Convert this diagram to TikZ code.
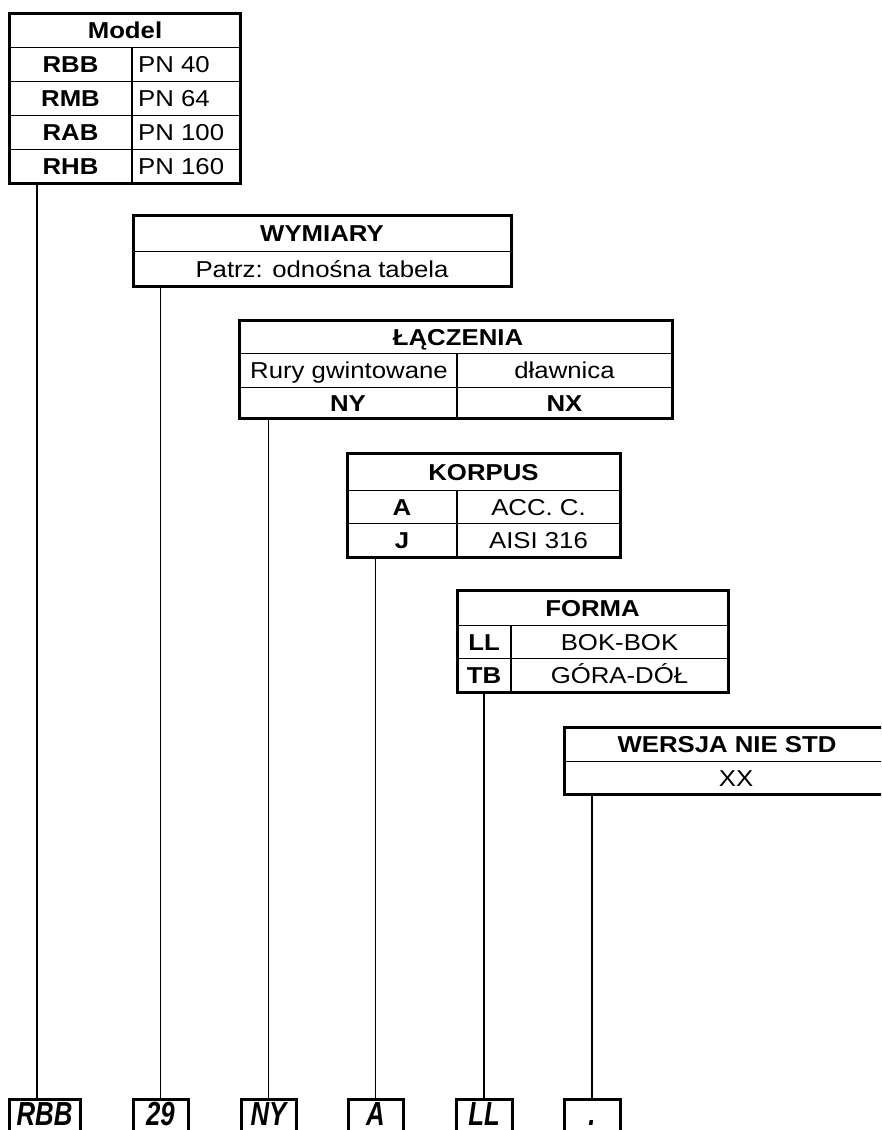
\documentclass[tikz,border=0pt]{standalone}
\usepackage{fontspec}
\setmainfont{Liberation Sans}[FakeStretch=1.12]
\begin{document}
\begin{tikzpicture}[x=1pt,y=-1pt,
  font=\fontsize{23}{26}\selectfont,
  tbl/.style={draw, line width=3pt, inner sep=0pt, minimum width=#1},
  sep/.style={line width=1pt},
  colsep/.style={line width=1.2pt},
  conn/.style={line width=1.8pt},
  txt/.style={inner sep=0pt, anchor=base},
  txtl/.style={inner sep=0pt, anchor=base west},
  bot/.style={draw, line width=3pt, inner sep=0pt, minimum height=60pt, minimum width=#1},
  bottxt/.style={inner sep=0pt, anchor=base, font=\fontsize{23}{26}\selectfont\bfseries\itshape}
]
\useasboundingbox (0,0) rectangle (881,1130);
\clip (0,0) rectangle (881,1130);

% ---------- Model ----------
\draw[sep] (9,47) -- (240,47);
\draw[sep] (9,81) -- (240,81);
\draw[sep] (9,115) -- (240,115);
\draw[sep] (9,149) -- (240,149);
\draw[colsep] (132,47) -- (132,183);
\node[tbl=231pt, minimum height=170pt] (model) at (124.5,98) {};
\node[txt] (mh) at (125,38.5) {\bfseries Model};
\node[txt] (m1a) at (70.5,72) {\bfseries RBB};
\node[txtl] (m1b) at (138,72) {PN 40};
\node[txt] (m2a) at (70.5,106) {\bfseries RMB};
\node[txtl] (m2b) at (138,106) {PN 64};
\node[txt] (m3a) at (70.5,140) {\bfseries RAB};
\node[txtl] (m3b) at (138,140) {PN 100};
\node[txt] (m4a) at (70.5,174) {\bfseries RHB};
\node[txtl] (m4b) at (138,174) {PN 160};

% ---------- WYMIARY ----------
\draw[sep] (133,251) -- (511,251);
\node[tbl=378pt, minimum height=71pt] (wym) at (322,250.5) {};
\node[txt] (wh) at (322,241) {\bfseries WYMIARY};
\node[txt] (w1) at (322,277) {Patrz: odnośna tabela};

% ---------- ŁĄCZENIA ----------
\draw[sep] (239,353) -- (672,353);
\draw[sep] (239,387) -- (672,387);
\draw[line width=2.5pt] (457,353) -- (457,418);
\node[tbl=433pt, minimum height=98pt] (lac) at (455.5,369) {};
\node[txt] (lh) at (458,345) {\bfseries ŁĄCZENIA};
\node[txt] (l1a) at (349,378.5) {Rury gwintowane};
\node[txt] (l1b) at (564.5,378.5) {dławnica};
\node[txt] (l2a) at (348,411) {\bfseries NY};
\node[txt] (l2b) at (564.5,411) {\bfseries NX};

% ---------- KORPUS ----------
\draw[sep] (347,490) -- (620,490);
\draw[sep] (347,523) -- (620,523);
\draw[colsep] (457,490) -- (457,557);
\node[tbl=273pt, minimum height=104pt] (kor) at (483.5,505) {};
\node[txt] (kh) at (483.5,480) {\bfseries KORPUS};
\node[txt] (k1a) at (402,515) {\bfseries A};
\node[txt] (k1b) at (538.5,515) {ACC. C.};
\node[txt] (k2a) at (402,548.5) {\bfseries J};
\node[txt] (k2b) at (538.5,548.5) {AISI 316};

% ---------- FORMA ----------
\draw[sep] (457,625) -- (728,625);
\draw[sep] (457,658) -- (728,658);
\draw[colsep] (511,625) -- (511,692);
\node[tbl=271pt, minimum height=102pt] (for) at (592.5,641) {};
\node[txt] (fh) at (592.5,616) {\bfseries FORMA};
\node[txt] (f1a) at (484,650) {\bfseries LL};
\node[txt] (f1b) at (619.5,650) {BOK-BOK};
\node[txt] (f2a) at (484,683.5) {\bfseries TB};
\node[txt] (f2b) at (619.5,683.5) {GÓRA-DÓŁ};

% ---------- WERSJA NIE STD ----------
\draw[sep] (564,761) -- (900,761);
\node[tbl=336pt, minimum height=67pt] (wer) at (732,760.5) {};
\node[txt] (vh) at (727,752.5) {\bfseries WERSJA NIE STD};
\node[txt] (v1) at (736,786) {XX};

% ---------- bottom code boxes ----------
\node[bot=71pt] (b1) at (44.5,1129) {};
\node[bot=55pt] (b2) at (160.5,1129) {};
\node[bot=55pt] (b3) at (268.5,1129) {};
\node[bot=55pt] (b4) at (375.5,1129) {};
\node[bot=56pt] (b5) at (484,1129) {};
\node[bot=56pt] (b6) at (592,1129) {};
\node[bottxt] (t1) at (44.5,1125) {\scalebox{1}[1.45]{RBB}};
\node[bottxt] (t2) at (160.5,1125) {\scalebox{1}[1.45]{29}};
\node[bottxt] (t3) at (268.5,1125) {\scalebox{1}[1.45]{NY}};
\node[bottxt] (t4) at (375.5,1125) {\scalebox{1}[1.45]{A}};
\node[bottxt] (t5) at (484,1125) {\scalebox{1}[1.45]{LL}};
\node[bottxt] (t6) at (592,1125) {\scalebox{1}[1.45]{.}};

% ---------- connectors ----------
\coordinate (c1) at (37,0);
\draw[conn] (c1 |- model.south) -- (c1 |- b1.north);
\draw[conn] (b2.north |- wym.south) -- (b2.north);
\draw[conn] (b3.north |- lac.south) -- (b3.north);
\draw[conn] (b4.north |- kor.south) -- (b4.north);
\draw[conn] (b5.north |- for.south) -- (b5.north);
\draw[conn] (b6.north |- wer.south) -- (b6.north);
\end{tikzpicture}
\end{document}
